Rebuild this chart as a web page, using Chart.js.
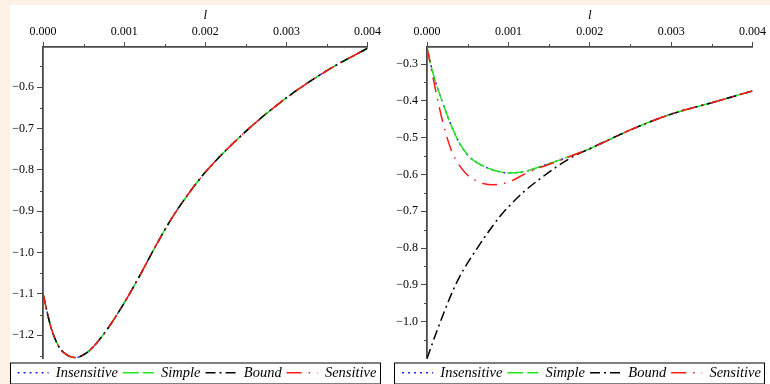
<!DOCTYPE html>
<html><head><meta charset="utf-8">
<script src="https://cdn.jsdelivr.net/npm/chart.js@4.4.1/dist/chart.umd.min.js"></script>
<style>
html,body{margin:0;padding:0;background:#fdf0e4;width:770px;height:384px;overflow:hidden}
#paper{position:absolute;left:10px;top:5px;width:760px;height:379px;background:#fff}
#c1{position:absolute;left:10px;top:5px}
#c2{position:absolute;left:385px;top:5px}
</style></head><body>
<div id="paper"></div>
<canvas id="c1" width="374" height="385"></canvas>
<canvas id="c2" width="384" height="385"></canvas>
<script>
// ---- data ----
const seriesNames = ['Insensitive', 'Simple', 'Bound', 'Sensitive'];

const xTickValues = [0, 0.001, 0.002, 0.003, 0.004];
const xTickLabels = ['0.000', '0.001', '0.002', '0.003', '0.004'];
const xMinorTicks = [0.0005, 0.0015, 0.0025, 0.0035];

const leftYTickValues = [-1.2, -1.1, -1.0, -0.9, -0.8, -0.7, -0.6];
const leftYTickLabels = ['\u22121.2', '\u22121.1', '\u22121.0', '\u22120.9', '\u22120.8', '\u22120.7', '\u22120.6'];
const leftYMinorTicks = [-1.25, -1.15, -1.05, -0.95, -0.85, -0.75, -0.65, -0.55];

const rightYTickValues = [-1.0, -0.9, -0.8, -0.7, -0.6, -0.5, -0.4, -0.3];
const rightYTickLabels = ['\u22121.0', '\u22120.9', '\u22120.8', '\u22120.7', '\u22120.6', '\u22120.5', '\u22120.4', '\u22120.3'];
const rightYMinorTicks = [-1.05, -0.95, -0.85, -0.75, -0.65, -0.55, -0.45, -0.35];

// left panel: l values and the four (coinciding) curves
const lLeft = [0, 0.0001, 0.0002, 0.0003, 0.0004, 0.0005, 0.0006, 0.0008, 0.001, 0.0012, 0.0014, 0.0016, 0.0018, 0.002, 0.0025, 0.003, 0.0035, 0.004];
const leftInsensitive = [-1.100, -1.182, -1.229, -1.248, -1.254, -1.247, -1.232, -1.183, -1.122, -1.053, -0.980, -0.913, -0.856, -0.806, -0.707, -0.626, -0.560, -0.506];
const leftSimple      = [-1.100, -1.182, -1.229, -1.248, -1.254, -1.247, -1.232, -1.183, -1.122, -1.053, -0.980, -0.913, -0.856, -0.806, -0.707, -0.626, -0.560, -0.506];
const leftBound       = [-1.100, -1.182, -1.229, -1.248, -1.254, -1.247, -1.232, -1.183, -1.122, -1.053, -0.980, -0.913, -0.856, -0.806, -0.707, -0.626, -0.560, -0.506];
const leftSensitive   = [-1.100, -1.182, -1.229, -1.248, -1.254, -1.247, -1.232, -1.183, -1.122, -1.053, -0.980, -0.913, -0.856, -0.806, -0.707, -0.626, -0.560, -0.506];

// right panel
const lRight = [0, 0.00005, 0.0001, 0.0002, 0.0003, 0.0004, 0.0005, 0.0006, 0.0007, 0.0008, 0.0009, 0.001, 0.0012, 0.0014, 0.0016, 0.0018, 0.002, 0.0025, 0.003, 0.0035, 0.004];
const rightInsensitive = [-0.255, -0.305, -0.345, -0.410, -0.468, -0.515, -0.547, -0.566, -0.578, -0.587, -0.593, -0.596, -0.592, -0.578, -0.563, -0.547, -0.530, -0.479, -0.436, -0.405, -0.373];
const rightSimple      = [-0.255, -0.305, -0.345, -0.410, -0.468, -0.515, -0.547, -0.566, -0.578, -0.587, -0.593, -0.596, -0.592, -0.578, -0.563, -0.547, -0.530, -0.479, -0.436, -0.405, -0.373];
const rightBound       = [-1.100, -1.069, -1.038, -0.980, -0.925, -0.878, -0.840, -0.806, -0.773, -0.742, -0.713, -0.688, -0.645, -0.610, -0.578, -0.551, -0.530, -0.479, -0.436, -0.405, -0.373];
const rightSensitive   = [-0.255, -0.310, -0.365, -0.463, -0.535, -0.576, -0.602, -0.617, -0.625, -0.628, -0.626, -0.621, -0.599, -0.580, -0.565, -0.547, -0.530, -0.479, -0.436, -0.405, -0.373];

// ---- styling ----
const styles = [
  { color: '#1f1fff', dash: [2, 4], order: 4 },
  { color: '#22e622', dash: [16, 4], order: 3 },
  { color: '#000000', dash: [10, 4, 2, 4], order: 2 },
  { color: '#ff1a1a', dash: [15, 7, 1.5, 7], order: 1 }
];
const axisColor = '#4a4a4a';

Chart.defaults.font.family = "'Liberation Serif', 'Times New Roman', serif";
Chart.defaults.color = '#000';

function pts(xs, ys) { return xs.map((x, i) => ({ x: x, y: ys[i] })); }

const decor = {
  id: 'decor',
  afterDraw(chart, args, o) {
    const ctx = chart.ctx, xs = chart.scales.x, ys = chart.scales.y;
    ctx.save();
    ctx.strokeStyle = axisColor; ctx.lineWidth = 1;
    ctx.beginPath();
    o.xMinor.forEach(v => { const p = Math.round(xs.getPixelForValue(v)) + 0.5; ctx.moveTo(p, xs.bottom); ctx.lineTo(p, xs.bottom - 3); });
    o.yMinor.forEach(v => { const p = Math.round(ys.getPixelForValue(v)) + 0.5; ctx.moveTo(ys.right, p); ctx.lineTo(ys.right - 3, p); });
    ctx.stroke();
    const lg = chart.legend;
    ctx.strokeStyle = '#000'; ctx.lineWidth = 1;
    ctx.strokeRect(lg.left + 0.5, lg.top + 4.5, 370, 21);
    ctx.restore();
  }
};

function legendLabels(chart) {
  const items = Chart.defaults.plugins.legend.labels.generateLabels(chart);
  items.forEach(it => {
    const ds = chart.data.datasets[it.datasetIndex];
    it.lineDash = ds.borderDash;
    it.strokeStyle = ds.borderColor;
    it.lineWidth = 1.5;
    it.pointStyle = 'line';
  });
  return items;
}

function makeChart(id, xsArr, seriesArr, yMin, yMax, yTicks, yLabels, yMinor, padLeft) {
  return new Chart(document.getElementById(id), {
    type: 'line',
    data: {
      datasets: seriesArr.map((s, i) => ({
        label: seriesNames[i],
        data: pts(xsArr, s),
        borderColor: styles[i].color,
        backgroundColor: styles[i].color,
        borderDash: styles[i].dash,
        borderWidth: 1.5,
        pointRadius: 0,
        fill: false,
        cubicInterpolationMode: 'monotone',
        order: styles[i].order
      }))
    },
    options: {
      responsive: false,
      animation: false,
      devicePixelRatio: 1,
      layout: { padding: { left: padLeft, right: 0, top: 0, bottom: 0 } },
      plugins: {
        tooltip: { enabled: false },
        legend: {
          position: 'bottom',
          title: { display: true, text: '', font: { size: 2, lineHeight: 1 }, padding: 0 },
          labels: {
            generateLabels: legendLabels,
            sort: (a, b) => a.datasetIndex - b.datasetIndex,
            usePointStyle: true,
            pointStyle: 'line',
            pointStyleWidth: 31,
            padding: 5,
            color: '#000',
            font: { size: 14.5, style: 'italic' }
          }
        },
        decor: { xMinor: xMinorTicks, yMinor: yMinor }
      },
      scales: {
        x: {
          type: 'linear',
          position: 'top',
          min: 0, max: 0.004,
          afterBuildTicks: s => { s.ticks = xTickValues.map(v => ({ value: v })); },
          afterFit: s => { s.height = 42; },
          ticks: {
            padding: 3,
            font: { size: 12 },
            color: '#000',
            maxRotation: 0,
            callback: (v, i) => xTickLabels[i]
          },
          title: { display: true, text: 'l', color: '#000', font: { size: 13, style: 'italic' }, padding: { top: 3, bottom: 0 } },
          grid: { drawOnChartArea: false, drawTicks: true, tickLength: 5, tickColor: axisColor, tickWidth: 1 },
          border: { display: true, color: axisColor, width: 1.8 }
        },
        y: {
          type: 'linear',
          min: yMin, max: yMax,
          afterBuildTicks: s => { s.ticks = yTicks.map(v => ({ value: v })); },
          afterFit: s => { s.width = 33; },
          ticks: {
            padding: 3,
            font: { size: 12 },
            color: '#000',
            callback: (v, i) => yLabels[i]
          },
          grid: { drawOnChartArea: false, drawTicks: true, tickLength: 6, tickColor: axisColor, tickWidth: 1 },
          border: { display: true, color: axisColor, width: 1.8 }
        }
      }
    },
    plugins: [decor]
  });
}

makeChart('c1', lLeft, [leftInsensitive, leftSimple, leftBound, leftSensitive], -1.256, -0.503, leftYTickValues, leftYTickLabels, leftYMinorTicks, 0);
makeChart('c2', lRight, [rightInsensitive, rightSimple, rightBound, rightSensitive], -1.1, -0.2537, rightYTickValues, rightYTickLabels, rightYMinorTicks, 9);
</script>
</body></html>
